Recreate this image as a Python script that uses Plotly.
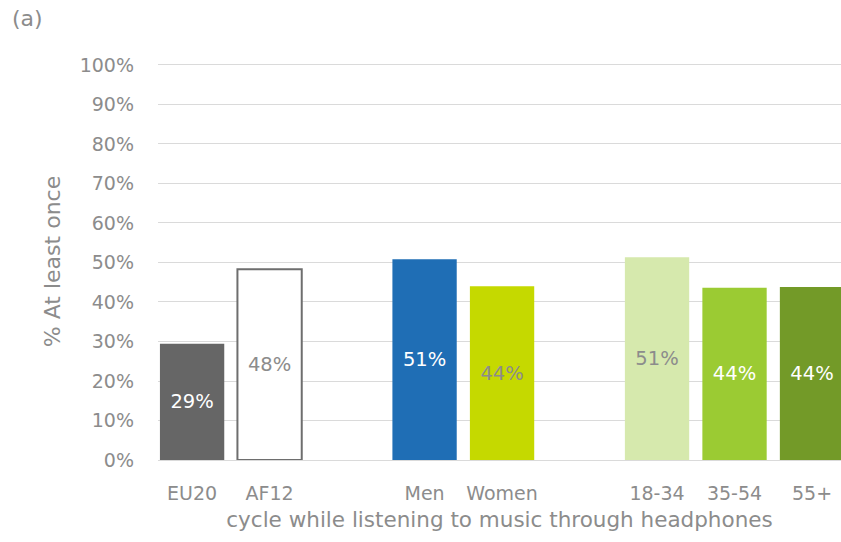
import plotly.graph_objects as go

# Share of respondents who cycled at least once while listening to music through headphones
categories = ["EU20", "AF12", "Men", "Women", "18-34", "35-54", "55+"]
slots = [0, 1, 3, 4, 6, 7, 8]          # empty slots separate the three groups
values = [29.4, 48.3, 50.8, 44.0, 51.3, 43.6, 43.8]

fill_colors = ["#666666", "#ffffff", "#1f6eb5", "#c5d900", "#d6e9ad", "#9bcb33", "#739a28"]
edge_colors = ["#666666", "#6e6e6e", "#1f6eb5", "#c5d900", "#d6e9ad", "#9bcb33", "#739a28"]
text_colors = ["#ffffff", "#8c8c8c", "#ffffff", "#8c8c8c", "#8c8c8c", "#ffffff", "#ffffff"]

y_ticks = list(range(0, 101, 10))
y_labels = [f"{t}%" for t in y_ticks]

FONT = "DejaVu Sans"
GREY = "#8c8c8c"
GRID = "#dadada"

fig = go.Figure(
    go.Bar(
        x=slots,
        y=values,
        width=0.83,
        marker=dict(color=fill_colors, line=dict(color=edge_colors, width=[0, 2, 0, 0, 0, 0, 0])),
        texttemplate="%{y:.0f}%",
        textposition="inside",
        insidetextanchor="middle",
        textfont=dict(family=FONT, size=19.5, color=text_colors),
        textangle=0,
        hoverinfo="skip",
    )
)

fig.update_layout(
    width=841,
    height=542,
    margin=dict(l=158, r=0, t=63, b=82),
    plot_bgcolor="white",
    paper_bgcolor="white",
    showlegend=False,
    font=dict(family=FONT, color=GREY),
    uniformtext=dict(mode=False),
)

fig.update_xaxes(
    range=[-0.44, 8.374],
    tickvals=slots,
    ticktext=categories,
    tickfont=dict(family=FONT, size=19, color=GREY),
    showgrid=False,
    showline=False,
    zeroline=False,
    ticks="",
    ticklabelstandoff=20,
    title=dict(text="cycle while listening to music through headphones",
               font=dict(family=FONT, size=21.5, color=GREY), standoff=8),
)

fig.update_yaxes(
    range=[0, 100.5],
    tickvals=y_ticks,
    ticktext=y_labels,
    tickfont=dict(family=FONT, size=19, color=GREY),
    showgrid=True,
    gridcolor=GRID,
    gridwidth=1.3,
    zeroline=True,
    zerolinecolor=GRID,
    zerolinewidth=1.3,
    showline=False,
    ticks="",
    ticklabelstandoff=23,
    title=dict(text="% At least once", font=dict(family=FONT, size=22, color=GREY), standoff=12),
)

fig.add_annotation(
    text="(a)", xref="paper", yref="paper", x=-0.216, y=1.113,
    xanchor="left", yanchor="middle", showarrow=False,
    font=dict(family=FONT, size=22, color=GREY),
)

fig.write_html("out.html")
